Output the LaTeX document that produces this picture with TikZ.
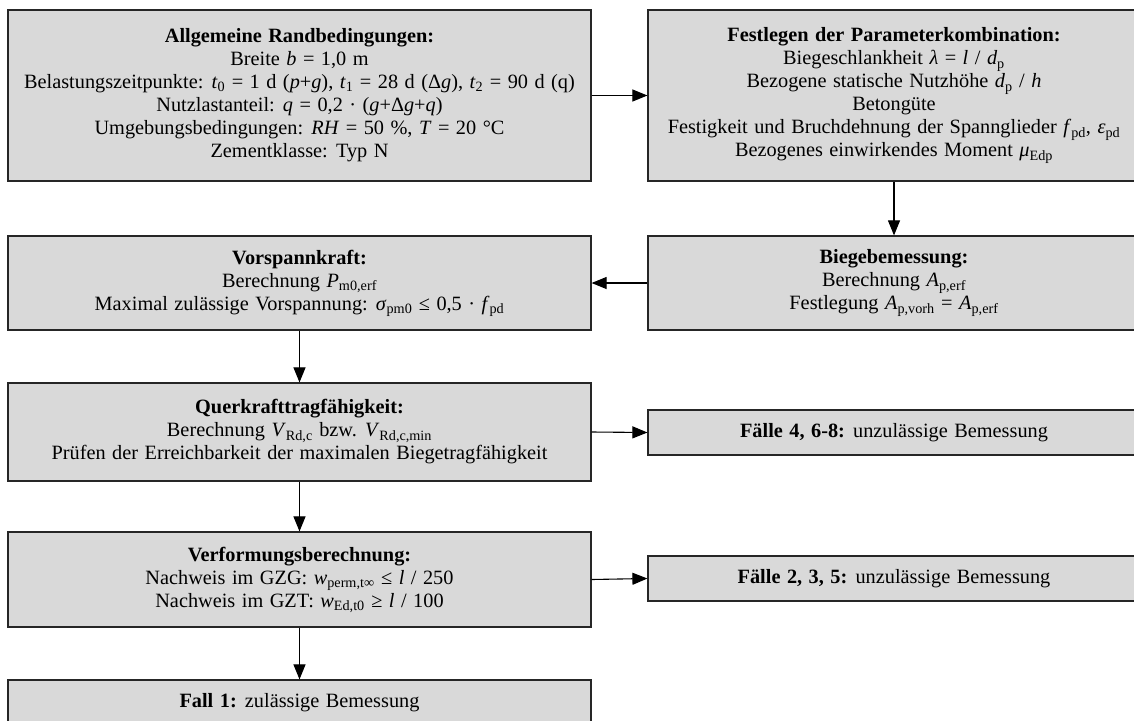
\documentclass[tikz,border=0pt]{standalone}
\usepackage{fontspec}
\setmainfont{Liberation Serif}
\usetikzlibrary{arrows.meta}

\definecolor{boxgray}{HTML}{D9D9D9}
\newcommand{\lo}[1]{\textsubscript{#1}}
\newcommand{\boxfont}{\fontsize{20.3}{23}\selectfont\spaceskip=0.32em plus 0.1em minus 0.05em\relax}

\tikzset{
  box/.style={draw=black!85, line width=1.2pt, fill=boxgray, align=center,
    inner sep=0pt, font=\boxfont},
  flow/.style={draw=black, line width=1.1pt, -{Triangle[length=15pt,width=12pt]}},
}

\begin{document}
\begin{tikzpicture}[x=1pt,y=-1pt]
\clip (0,0) rectangle (1134,720);
\fill[white] (0,0) rectangle (1134,720);

% left column
\node[box, minimum width=583pt, minimum height=171pt] (rand) at (299.5,95.5)
  {\textbf{Allgemeine Randbedingungen:}\\
   Breite \textit{b} = 1,0 m\\
   Belastungszeitpunkte: \textit{t}\lo{0} = 1 d (\textit{p}+\textit{g}), \textit{t}\lo{1} = 28 d (Δ\textit{g}), \textit{t}\lo{2} = 90 d (q)\\
   Nutzlastanteil: \textit{q} = 0,2 · (\textit{g}+Δ\textit{g}+\textit{q})\\
   Umgebungsbedingungen: \textit{RH} = 50 \%, \textit{T} = 20 °C\\
   Zementklasse: Typ N};

\node[box, minimum width=583pt, minimum height=94pt] (vorsp) at (299.5,283)
  {\textbf{Vorspannkraft:}\\
   Berechnung \textit{P}\lo{m0,erf}\\
   Maximal zulässige Vorspannung: \textit{σ}\lo{pm0} ≤ 0,5 · \textit{f}\lo{pd}};

\node[box, minimum width=583pt, minimum height=98pt] (querk) at (299.5,432)
  {\textbf{Querkrafttragfähigkeit:}\\
   Berechnung \textit{V}\lo{Rd,c} bzw. \textit{V}\lo{Rd,c,min}\\
   Prüfen der Erreichbarkeit der maximalen Biegetragfähigkeit};

\node[box, minimum width=583pt, minimum height=95pt] (verf) at (299.5,579.5)
  {\textbf{Verformungsberechnung:}\\
   Nachweis im GZG: \textit{w}\lo{perm,t∞} ≤ \textit{l} / 250\\
   Nachweis im GZT: \textit{w}\lo{Ed,t0} ≥ \textit{l} / 100};

\node[box, minimum width=583pt, minimum height=46pt] (fall1) at (299.5,703)
  {\textbf{Fall 1:} zulässige Bemessung};

% right column
\node[box, minimum width=492pt, minimum height=171pt] (param) at (894,95.5)
  {\textbf{Festlegen der Parameterkombination:}\\
   Biegeschlankheit \textit{λ} = \textit{l} / \textit{d}\lo{p}\\
   Bezogene statische Nutzhöhe \textit{d}\lo{p} / \textit{h}\\
   Betongüte\\
   Festigkeit und Bruchdehnung der Spannglieder \textit{f}\lo{pd}, \textit{ε}\lo{pd}\\
   Bezogenes einwirkendes Moment \textit{μ}\lo{Edp}};

\node[box, minimum width=492pt, minimum height=94pt] (biege) at (894,283)
  {\textbf{Biegebemessung:}\\
   Berechnung \textit{A}\lo{p,erf}\\
   Festlegung \textit{A}\lo{p,vorh} = \textit{A}\lo{p,erf}};

\node[box, minimum width=492pt, minimum height=45pt] (faelleA) at (894,432.5)
  {\textbf{Fälle 4, 6-8:} unzulässige Bemessung};

\node[box, minimum width=492pt, minimum height=45pt] (faelleB) at (894,578.5)
  {\textbf{Fälle 2, 3, 5:} unzulässige Bemessung};

% connectors
\draw[flow] (rand.east |- 0,95.5) -- (param.west |- 0,95.5);
\draw[flow] (param.south) -- (biege.north);
\draw[flow] (biege.west) -- (vorsp.east);
\draw[flow] (vorsp.south) -- (querk.north);
\draw[flow] (querk.east) -- (faelleA.west);
\draw[flow] (querk.south) -- (verf.north);
\draw[flow] (verf.east) -- (faelleB.west);
\draw[flow] (verf.south) -- (fall1.north);
\end{tikzpicture}
\end{document}
